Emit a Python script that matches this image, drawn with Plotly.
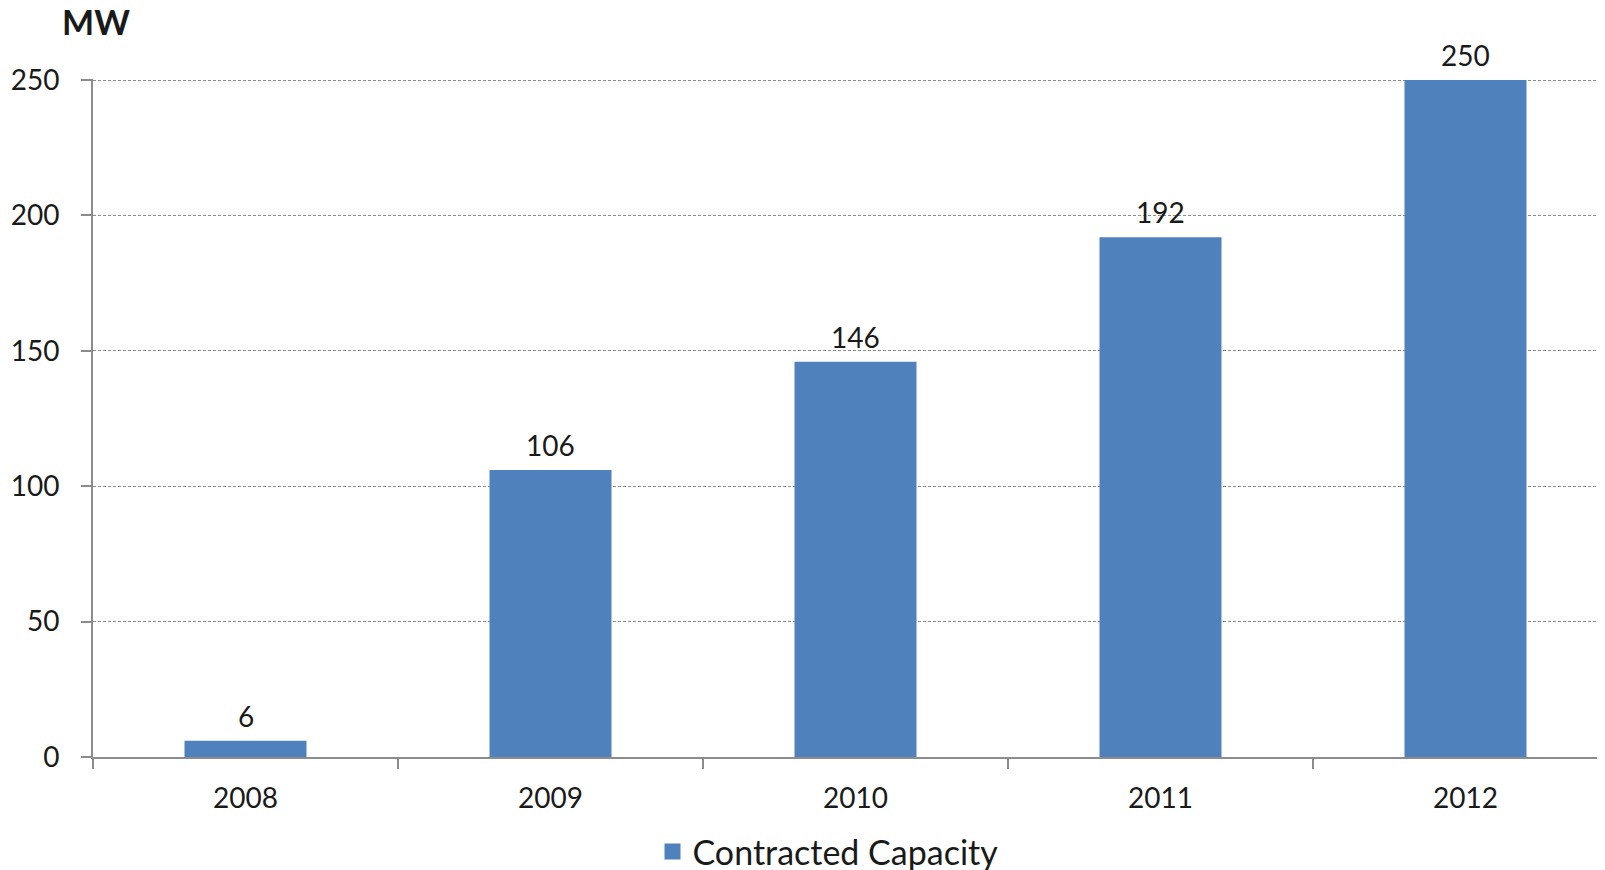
import plotly.graph_objects as go

years = ["2008", "2009", "2010", "2011", "2012"]
capacity = [6, 106, 146, 192, 250]
series_name = "Contracted Capacity"
y_ticks = [0, 50, 100, 150, 200, 250]

BAR = "#4F81BD"
TXT = "#1a1a1a"
AX = "#8c8c8c"
FONT = "Lato"

# the page body adds an 8px offset; size the figure so it fills the 1605x870 window
W, H = 1597, 862

fig = go.Figure()
fig.add_trace(go.Bar(
    x=years, y=capacity, name=series_name, marker=dict(color=BAR, line=dict(width=0)),
    showlegend=False, hoverinfo="x+y",
))
# legend entry with a larger square swatch
fig.add_trace(go.Scatter(
    x=[None], y=[None], mode="markers", name=series_name,
    marker=dict(symbol="square", size=20, color=BAR), showlegend=True,
))
# value labels above bars (category index positions)
for i, v in enumerate(capacity):
    fig.add_annotation(
        x=i, y=v, xref="x", yref="y", text=str(v), xanchor="center", yanchor="bottom",
        showarrow=False, yshift=6, font=dict(family=FONT, size=28, color=TXT),
    )

fig.update_layout(
    width=W, height=H,
    margin=dict(l=85, r=0, t=71, b=113, autoexpand=False),
    paper_bgcolor="white", plot_bgcolor="white",
    bargap=0.6,
    font=dict(family=FONT, size=28, color=TXT),
    showlegend=True,
    legend=dict(orientation="h", xref="container", yref="container",
                x=820 / W, xanchor="center", y=1 - 844 / H, yanchor="middle",
                font=dict(family=FONT, size=34, color=TXT), itemwidth=30),
)
fig.update_xaxes(
    type="category", range=[-0.5, -0.5 + 1512 / 305], automargin=False,
    showline=True, linecolor=AX, linewidth=2,
    ticks="outside", tickson="boundaries", ticklen=10, tickcolor=AX, tickwidth=2,
    showgrid=False, tickfont=dict(family=FONT, size=28, color=TXT), ticklabelstandoff=15,
)
fig.update_yaxes(
    range=[0, 250.4], tickvals=y_ticks, automargin=False,
    showline=True, linecolor=AX, linewidth=2,
    ticks="outside", ticklen=10, tickcolor=AX, tickwidth=2,
    showgrid=True, gridcolor=AX, gridwidth=1, griddash="3px,2px",
    zeroline=False, tickfont=dict(family=FONT, size=28, color=TXT), ticklabelstandoff=16,
)
fig.add_annotation(
    text="<b>MW</b>", xref="paper", yref="paper", x=-33 / 1512, y=1 + 80.5 / 678,
    xanchor="left", yanchor="top", showarrow=False,
    font=dict(family=FONT, size=34, color=TXT),
)

fig.write_html("out.html")
